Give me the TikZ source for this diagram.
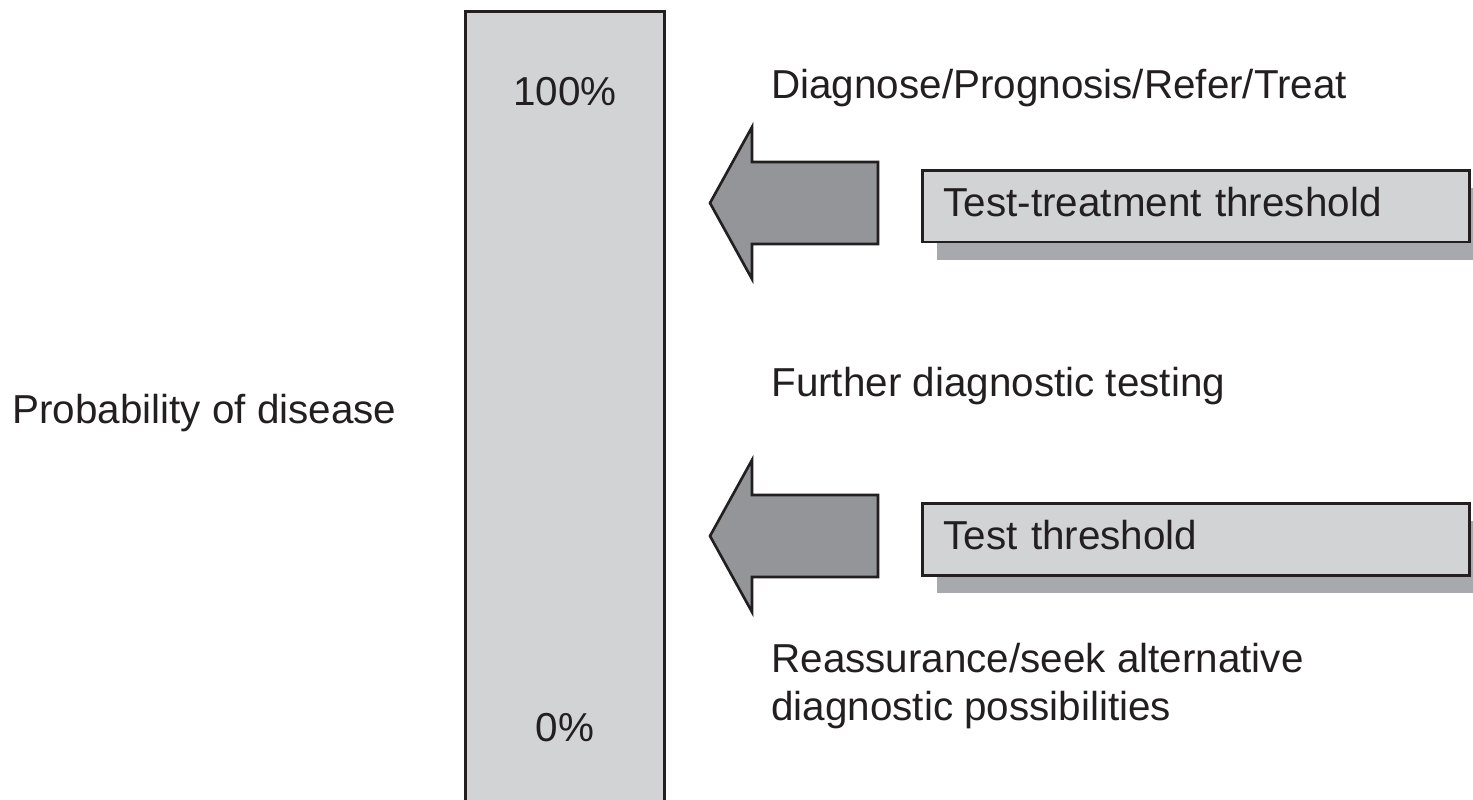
\documentclass[tikz,border=0pt]{standalone}
\usepackage{fontspec}
\setmainfont{Liberation Sans}
\usepackage{xcolor}
\usepackage{tikz}
\usetikzlibrary{positioning, shadows}
\definecolor{inkblack}{RGB}{35, 31, 32}
\definecolor{barfill}{RGB}{209, 211, 212}
\definecolor{arrowgray}{RGB}{147, 149, 152}
\definecolor{shadowgray}{RGB}{167, 169, 172}

\begin{document}
\begin{tikzpicture}[
    x=0.02cm, y=-0.02cm,
    font=\fontsize{23}{27.2}\selectfont, text=inkblack,
    bar/.style={
      rectangle, draw=inkblack, fill=barfill, line width=1.7pt,
      minimum width=4cm, minimum height=16.6cm, inner sep=0pt
    },
    threshold/.style={
      rectangle, draw=inkblack, fill=barfill, line width=1.7pt,
      minimum width=10.96cm, minimum height=1.44cm,
      text width=10.1cm, align=left, inner ysep=0pt, inner xsep=0.43cm,
      text depth=0.16cm,
      drop shadow={shadow xshift=0.3cm, shadow yshift=-0.36cm,
                   fill=shadowgray, opacity=1}
    },
    blockarrow/.style={draw=inkblack, fill=arrowgray, line width=1.5pt,
      line join=miter},
    outcome/.style={anchor=west, align=left, inner sep=0pt}
]
  \useasboundingbox (0,0) rectangle (1473,799);

  % probability scale, runs off the bottom edge
  \node[bar] (scale) at (565,426) {};
  \node (top)    at (565,92)  {100\%};
  \node (bottom) at (565,728) {0\%};
  \node[anchor=west, inner sep=0pt] (prob) at (12,413) {Probability of disease};

  % thresholds
  \node[threshold] (testtreat) at (1196,206) {Test-treatment threshold};
  \node[threshold] (test)      at (1196,539) {Test threshold};

  % big arrows pointing at the scale
  \coordinate (tipA) at (710,203);
  \coordinate (tipB) at (710,536);
  \draw[blockarrow] (tipA) -- ++(42,-76) -- ++(0,35) -- ++(126,0) -- ++(0,82)
    -- ++(-126,0) -- ++(0,35) -- cycle;
  \draw[blockarrow] (tipB) -- ++(42,-76) -- ++(0,35) -- ++(126,0) -- ++(0,82)
    -- ++(-126,0) -- ++(0,35) -- cycle;

  % what happens in each zone
  \node[outcome] (treat)   at (771,88)  {Diagnose/Prognosis/Refer/Treat};
  \node[outcome] (further) at (771,386) {Further diagnostic testing};
  \node[outcome] (reassure) at (771,686)
    {Reassurance/seek alternative\\diagnostic possibilities};
\end{tikzpicture}
\end{document}
